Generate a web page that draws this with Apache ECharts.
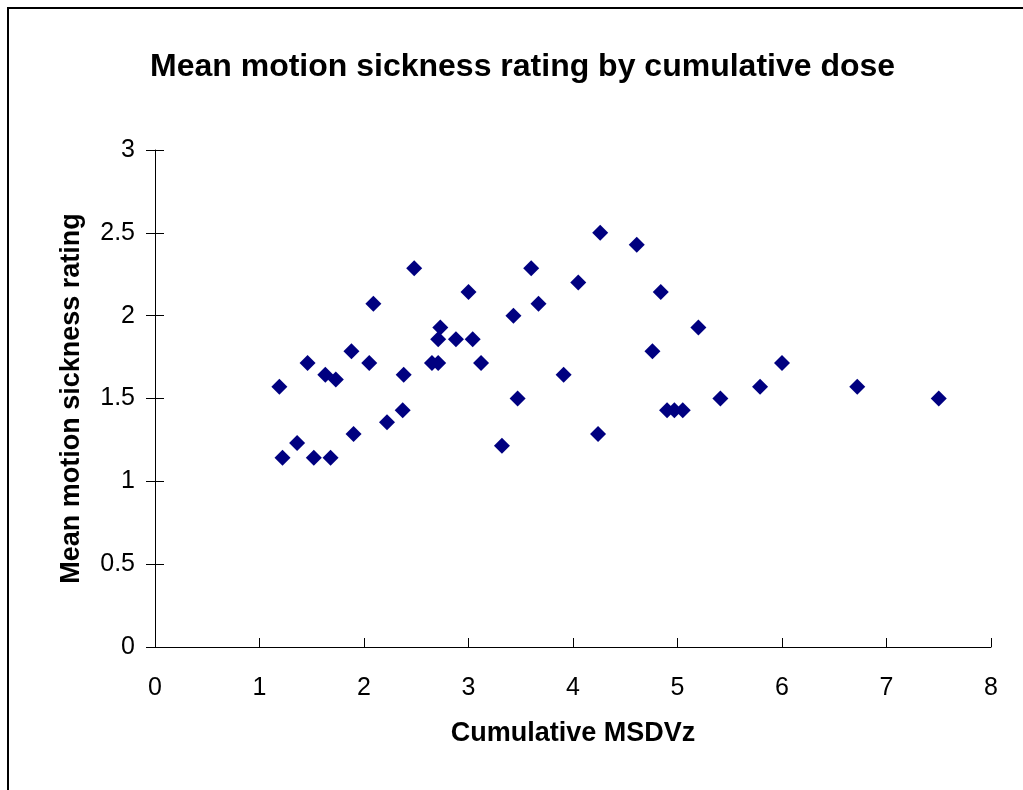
<!DOCTYPE html>
<html>
<head>
<meta charset="utf-8">
<script src="https://cdn.jsdelivr.net/npm/echarts@6/dist/echarts.min.js"></script>
<style>
    body {
        margin: 0;
        background-color: #fff;
    }

    .chart_box {
        position: absolute;
        top: 0;
        left: 0;
        width: 1023px;
        height: 790px;
    }
</style>
</head>
<body>

<div id="msChart" class="chart_box"></div>

<script>
    // cumulative MSDVz (x) and mean rating (y)
    var dose_list = [1.19, 1.22, 1.36, 1.46, 1.52, 1.63, 1.68, 1.73, 1.88, 1.90,
                     2.05, 2.09, 2.22, 2.37, 2.38, 2.48, 2.65, 2.71, 2.71, 2.73,
                     2.88, 3.00, 3.04, 3.12, 3.32, 3.43, 3.47, 3.60, 3.67, 3.91,
                     4.05, 4.24, 4.26, 4.61, 4.76, 4.84, 4.90, 4.97, 5.05, 5.20,
                     5.41, 5.79, 6.00, 6.72, 7.50];
    var rating_list = [1.5714, 1.1429, 1.2308, 1.7143, 1.1429, 1.6429, 1.1429, 1.6154, 1.7857, 1.2857,
                       1.7143, 2.0714, 1.3571, 1.4286, 1.6429, 2.2857, 1.7143, 1.8571, 1.7143, 1.9286,
                       1.8571, 2.1429, 1.8571, 1.7143, 1.2143, 2.0, 1.5, 2.2857, 2.0714, 1.6429,
                       2.2, 1.2857, 2.5, 2.4286, 1.7857, 2.1429, 1.4286, 1.4286, 1.4286, 1.9286,
                       1.5, 1.5714, 1.7143, 1.5714, 1.5];

    var x_ticks = [0, 8, 1];      // min, max, step
    var y_ticks = [0, 3, 0.5];

    var chart_title = 'Mean motion sickness rating by cumulative dose';
    var x_name = 'Cumulative MSDVz';
    var y_name = 'Mean motion sickness rating';

    var myChart = echarts.init(document.getElementById('msChart'));

    var points = [];
    for (var i = 0; i < dose_list.length; i++) {
        points.push([dose_list[i], rating_list[i]]);
    }

    var font = 'Liberation Sans, Arial, sans-serif';

    var charts_option = {};
    charts_option['animation'] = false;
    charts_option['backgroundColor'] = '#fff';

    charts_option['title'] = {
        text: chart_title,
        left: 150,
        top: 51,
        padding: 0,
        textStyle: {fontFamily: font, fontSize: 32, fontWeight: 'bold', color: '#000'}
    };

    // outer frame, only left and top edges are in view
    charts_option['graphic'] = [{
        type: 'rect',
        shape: {x: 8, y: 8, width: 1100, height: 900},
        style: {fill: 'none', stroke: '#000', lineWidth: 2}
    }];

    charts_option['grid'] = {left: 155, right: 32, top: 150, bottom: 143};

    charts_option['xAxis'] = {
        type: 'value',
        min: x_ticks[0], max: x_ticks[1], interval: x_ticks[2],
        name: x_name,
        nameLocation: 'middle',
        nameGap: 73,
        nameTextStyle: {fontFamily: font, fontSize: 27, fontWeight: 'bold', color: '#000'},
        axisLine: {show: true, lineStyle: {color: '#000', width: 1}},
        axisTick: {show: true, inside: true, length: 9, lineStyle: {color: '#000'}},
        axisLabel: {fontFamily: font, fontSize: 25, color: '#000', margin: 29},
        splitLine: {show: false}
    };

    // second y axis only draws the inner half of the crossing ticks
    charts_option['yAxis'] = [{
        type: 'value',
        min: y_ticks[0], max: y_ticks[1], interval: y_ticks[2],
        name: y_name,
        nameLocation: 'middle',
        nameGap: 70,
        nameTextStyle: {fontFamily: font, fontSize: 27, fontWeight: 'bold', color: '#000'},
        axisLine: {show: true, lineStyle: {color: '#000', width: 1}},
        axisTick: {show: true, length: 9, lineStyle: {color: '#000'}},
        axisLabel: {fontFamily: font, fontSize: 25, color: '#000', margin: 20},
        splitLine: {show: false}
    }, {
        type: 'value',
        position: 'left',
        min: y_ticks[0], max: y_ticks[1], interval: y_ticks[2],
        axisLine: {show: false},
        axisTick: {show: true, inside: true, length: 9, lineStyle: {color: '#000'}},
        axisLabel: {show: false},
        splitLine: {show: false}
    }];

    charts_option['series'] = [{
        type: 'scatter',
        data: points,
        symbol: 'diamond',
        symbolSize: 16,
        itemStyle: {color: '#000080', opacity: 1}
    }];

    myChart.setOption(charts_option);
</script>
</body>
</html>
